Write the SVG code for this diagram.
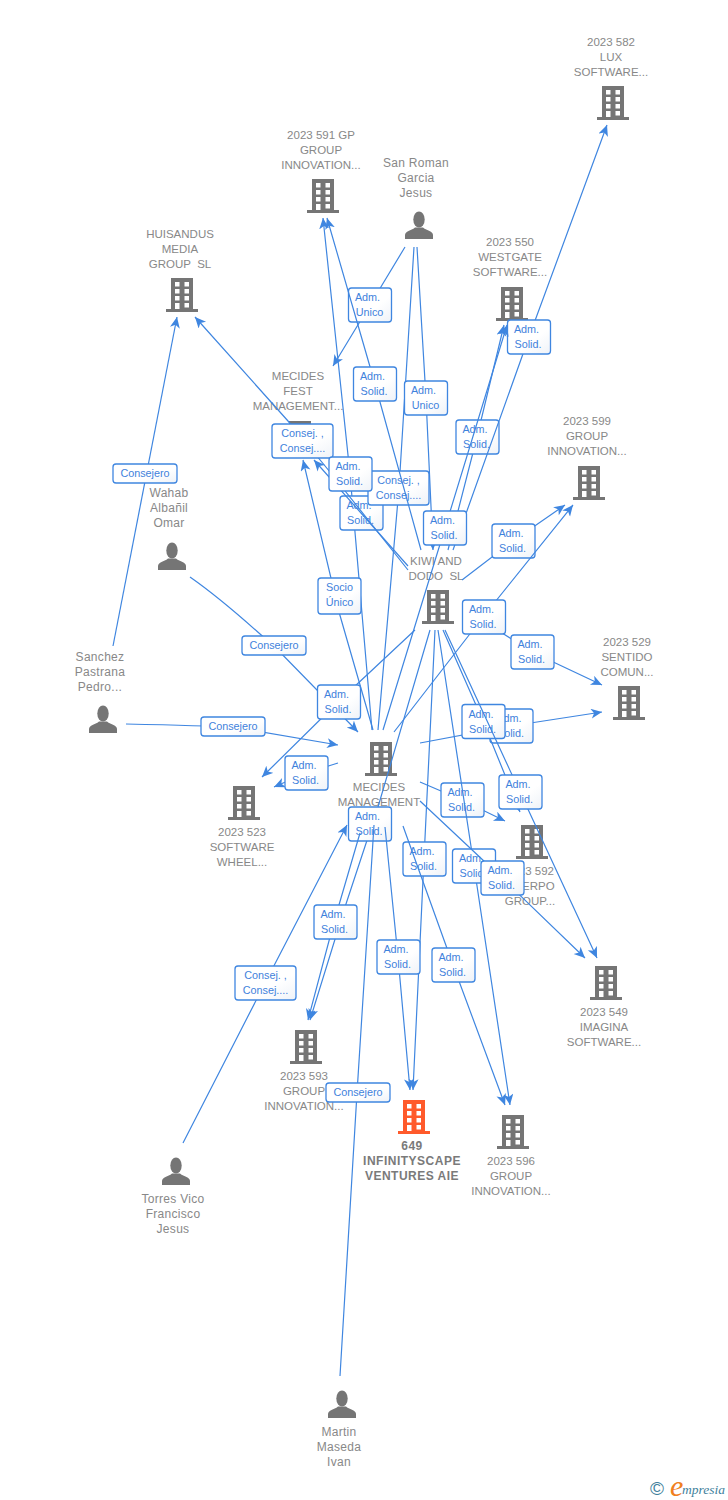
<svg xmlns="http://www.w3.org/2000/svg" width="728" height="1500" viewBox="0 0 728 1500">
<style>
text{font-family:"Liberation Sans",Arial,sans-serif;white-space:pre}
.n{font-size:11.5px;fill:#888;text-anchor:middle}
.p{font-size:12px;letter-spacing:.3px;fill:#888;text-anchor:middle}
.m{font-size:12px;font-weight:bold;fill:#7a7a7a;text-anchor:middle;letter-spacing:.5px}
.e{fill:none;stroke:#3f86e0;stroke-width:1.2}
.a{marker-end:url(#ah)}
.b{fill:url(#lg);stroke:#3f86e0;stroke-width:1.3}
.t{font-size:10.8px;fill:#3f82dc;text-anchor:middle}
</style>
<defs>
<linearGradient id="lg" x1="0" y1="0" x2="1" y2="1"><stop offset="0.6" stop-color="#fff"/><stop offset="1" stop-color="#eef2f8"/></linearGradient>
<marker id="ah" markerUnits="userSpaceOnUse" markerWidth="14" markerHeight="12" refX="11" refY="5" orient="auto"><path d="M0,0 L11,5 L0,10 L3,5 Z" fill="#3f86e0"/></marker>
<g id="bld">
<path d="M-11,0H11V31H16V34H-16V31H-11Z"/>
<path fill="#fff" d="M-7,4h4.500v4.500h-4.500zM2.500,4h4.500v4.500h-4.500zM-7,11h4.500v4.500h-4.500zM2.500,11h4.500v4.500h-4.500zM-7,18h4.500v4.500h-4.500zM2.500,18h4.500v4.500h-4.500zM-7,25h4.500v6h-4.500zM2.500,25h4.500v4.500h-4.500z"/>
</g>
<g id="psn"><ellipse cx="0" cy="7.500" rx="5.700" ry="8"/><path d="M-14,27V23C-14,19 -8,19 -4,15.500H4C8,19 14,19 14,23V27Z"/></g>
<g id="ad" ><rect class="b" x="-21.500" y="-17" width="43" height="34" rx="3"/><text class="t" x="-2.500" y="-4">Adm.</text><text class="t" x="-1" y="11">Solid.</text></g>
<g id="au" ><rect class="b" x="-21.500" y="-17" width="43" height="34" rx="3"/><text class="t" x="-2.500" y="-4">Adm.</text><text class="t" x="-0.500" y="11">Unico</text></g>
<g id="cc" ><rect class="b" x="-30.500" y="-17" width="61" height="34" rx="3"/><text class="t" y="-4">Consej. ,</text><text class="t" y="11">Consej....</text></g>
<g id="cs" ><rect class="b" x="-32" y="-9.500" width="64" height="19" rx="3"/><text class="t" y="3.500">Consejero</text></g>
</defs>
<rect width="728" height="1500" fill="#fff"/>
<g id="nodes" fill="#757575">
<g id="n582"><text class="n" x="611" y="46">2023 582</text><text class="n" x="611" y="61">LUX</text><text class="n" x="611" y="76">SOFTWARE...</text><use href="#bld" x="613" y="86"/></g>
<g id="n591"><text class="n" x="321" y="139">2023 591 GP</text><text class="n" x="321" y="154">GROUP</text><text class="n" x="321" y="169">INNOVATION...</text><use href="#bld" x="323" y="179"/></g>
<g id="nsanroman"><text class="p" x="416" y="167">San Roman</text><text class="p" x="416" y="182">Garcia</text><text class="p" x="416" y="197">Jesus</text><use href="#psn" x="419" y="212"/></g>
<g id="nhuisandus"><text class="n" x="180" y="238">HUISANDUS</text><text class="n" x="180" y="253">MEDIA</text><text class="n" x="180" y="268">GROUP  SL</text><use href="#bld" x="182" y="278"/></g>
<g id="n550"><text class="n" x="510" y="246">2023 550</text><text class="n" x="510" y="261">WESTGATE</text><text class="n" x="510" y="276">SOFTWARE...</text><use href="#bld" x="512" y="287"/></g>
<g id="n599"><text class="n" x="587" y="425">2023 599</text><text class="n" x="587" y="440">GROUP</text><text class="n" x="587" y="455">INNOVATION...</text><use href="#bld" x="589" y="466"/></g>
<g id="nfest"><text class="n" x="298" y="380">MECIDES</text><text class="n" x="298" y="395">FEST</text><text class="n" x="298" y="410">MANAGEMENT...</text><use href="#bld" x="300" y="421"/></g>
<g id="nwahab"><text class="p" x="169" y="497">Wahab</text><text class="p" x="169" y="512">Albañil</text><text class="p" x="169" y="527">Omar</text><use href="#psn" x="172" y="543"/></g>
<g id="nkiwi"><text class="n" x="436" y="565">KIWI AND</text><text class="n" x="436" y="580">DODO  SL</text><use href="#bld" x="438" y="590"/></g>
<g id="n529"><text class="n" x="627" y="646">2023 529</text><text class="n" x="627" y="661">SENTIDO</text><text class="n" x="627" y="676">COMUN...</text><use href="#bld" x="629" y="686"/></g>
<g id="nsanchez"><text class="p" x="100" y="661">Sanchez</text><text class="p" x="100" y="676">Pastrana</text><text class="p" x="100" y="691">Pedro...</text><use href="#psn" x="103" y="706"/></g>
<g id="nmecides"><use href="#bld" x="381" y="742"/><text class="n" x="379" y="791">MECIDES</text><text class="n" x="379" y="806">MANAGEMENT</text></g>
<g id="n523"><use href="#bld" x="244" y="786"/><text class="n" x="242" y="836">2023 523</text><text class="n" x="242" y="851">SOFTWARE</text><text class="n" x="242" y="866">WHEEL...</text></g>
<g id="n592"><use href="#bld" x="532" y="825"/><text class="n" x="530" y="875">2023 592</text><text class="n" x="530" y="890">CUERPO</text><text class="n" x="530" y="905">GROUP...</text></g>
<g id="n549"><use href="#bld" x="606" y="966"/><text class="n" x="604" y="1016">2023 549</text><text class="n" x="604" y="1031">IMAGINA</text><text class="n" x="604" y="1046">SOFTWARE...</text></g>
<g id="n593"><use href="#bld" x="306" y="1030"/><text class="n" x="304" y="1080">2023 593</text><text class="n" x="304" y="1095">GROUP</text><text class="n" x="304" y="1110">INNOVATION...</text></g>
<g id="n649" fill="#ff5a2b"><use href="#bld" x="414" y="1100"/><text class="m" x="412" y="1150">649</text><text class="m" x="412" y="1165">INFINITYSCAPE</text><text class="m" x="412" y="1180">VENTURES AIE</text></g>
<g id="n596"><use href="#bld" x="513" y="1115"/><text class="n" x="511" y="1165">2023 596</text><text class="n" x="511" y="1180">GROUP</text><text class="n" x="511" y="1195">INNOVATION...</text></g>
<g id="ntorres"><use href="#psn" x="176" y="1158"/><text class="p" x="173" y="1203">Torres Vico</text><text class="p" x="173" y="1218">Francisco</text><text class="p" x="173" y="1233">Jesus</text></g>
<g id="nmartin"><use href="#psn" x="342" y="1391"/><text class="p" x="339" y="1436">Martin</text><text class="p" x="339" y="1451">Maseda</text><text class="p" x="339" y="1466">Ivan</text></g>
</g>
<g id="connectors">
<path class="e a" d="M113,646L177,317"/><use href="#cs" x="145" y="473.500"/>
<path class="e a" d="M405,247L370,305L333,366"/><use href="#au" x="370" y="305"/>
<path class="e a" d="M372,730L350,474L323,218"/>
<use href="#ad" x="361.500" y="513"/>
<path class="e a" d="M408,570L330,472L288,421L195,317"/>
<path class="e a" d="M408,566L361,513L314,460"/>
<path class="e" d="M414,247L399,488L378,730"/><use href="#cc" x="398.500" y="488"/>
<path class="e a" d="M417,247L426,398L433,550"/><use href="#au" x="426" y="398"/>
<path class="e a" d="M448,550L477,437L504,325"/><use href="#ad" x="477.500" y="437"/>
<path class="e a" d="M421,550L375,384L327,218"/><use href="#ad" x="375" y="384"/>
<path class="e a" d="M373,730L339,612L303,460"/><use href="#cc" x="302.500" y="441"/><use href="#ad" x="350.500" y="474"/>
<rect class="b" x="318" y="578" width="43" height="36" rx="3"/><text class="t" x="339.500" y="591">Socio</text><text class="t" x="339.500" y="606">Único</text>
<path class="e a" d="M453,550L529,337L607,125"/><use href="#ad" x="529" y="337"/>
<path class="e a" d="M383,730L445,528L507,325"/><use href="#ad" x="445" y="528"/>
<path class="e a" d="M462,580L513,541L565,505"/><use href="#ad" x="513.500" y="541"/>
<path class="e a" d="M472,614L532,652L602,685"/>
<path class="e a" d="M394,732L483,617L573,505"/><use href="#ad" x="484" y="617"/>
<use href="#ad" x="532.500" y="652"/>
<path class="e a" d="M190,577C230,605 260,635 274,646L358,732"/><use href="#cs" x="274" y="645.500"/>
<path class="e a" d="M415,630L338,702L262,777"/><use href="#ad" x="339" y="702"/>
<path class="e a" d="M126,724C170,725 210,726 233,727L338,745"/><use href="#cs" x="233" y="726.500"/>
<path class="e a" d="M338,763L306,773L274,787"/><use href="#ad" x="306.500" y="773"/>
<path class="e a" d="M420,743L511,726L602,712"/><use href="#ad" x="511.500" y="726"/>
<path class="e a" d="M443,630L483,721L520,812"/><use href="#ad" x="483.500" y="721.500"/>
<path class="e a" d="M420,782L462,800L505,821"/><use href="#ad" x="462.500" y="800"/>
<path class="e a" d="M445,630L520,792L597,958"/>
<path class="e a" d="M438,630L474,866L510,1105"/>
<path class="e a" d="M430,630L378,807L345,907L310,1020"/><use href="#ad" x="370" y="824"/>
<path class="e a" d="M360,833L334,922L308,1020"/>
<path class="e a" d="M385,827L398,957L410,1090"/>
<use href="#ad" x="520.500" y="792"/>
<use href="#ad" x="474" y="866"/>
<path class="e a" d="M435,630L424,859L413,1090"/><use href="#ad" x="424.500" y="859"/>
<path class="e a" d="M403,826L453,965L505,1105"/>
<path class="e a" d="M420,801L502,878L585,958"/><use href="#ad" x="502.500" y="878"/>
<use href="#ad" x="335.500" y="922"/><use href="#ad" x="398.500" y="957"/><use href="#ad" x="453.500" y="965"/>
<path class="e a" d="M183,1143L265,983L347,825"/><use href="#cc" x="265.500" y="983"/>
<path class="e" d="M340,1376L357,1093L374,825"/><use href="#cs" x="358" y="1092.500"/>
</g>
<g id="logo"><text x="650" y="1495" font-size="19" fill="#3f7f9c">©</text><text x="670" y="1496" font-size="30" font-style="italic" fill="#f08020" style="font-family:'Liberation Serif',serif">e</text><text x="682" y="1494" font-size="13.500" font-style="italic" fill="#3f7f9c" style="font-family:'Liberation Serif',serif">mpresia</text></g>
</svg>
